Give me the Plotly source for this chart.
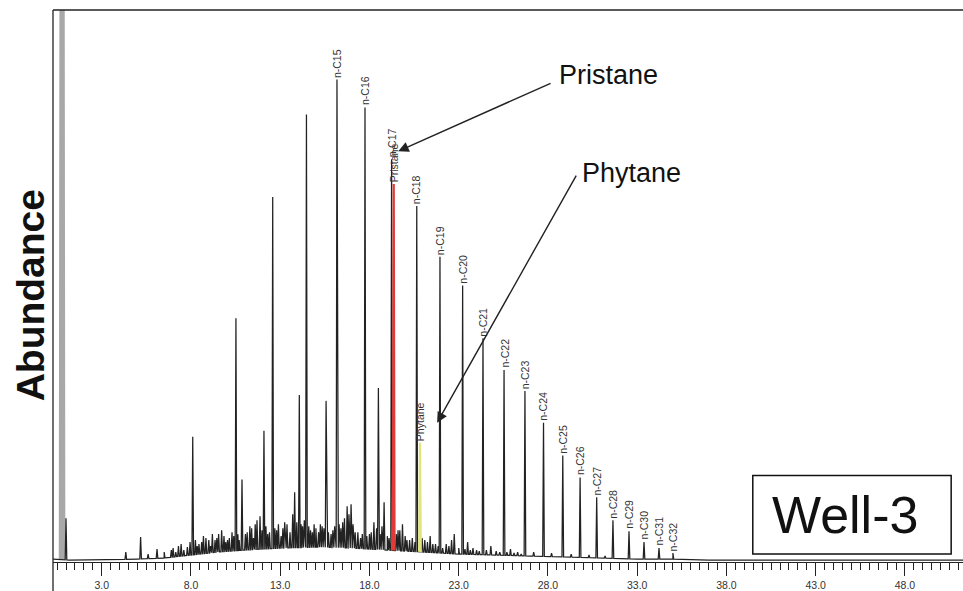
import numpy as np
import plotly.graph_objects as go

FONT = "Liberation Sans, Arial, sans-serif"

# --- labelled n-alkanes: retention time (min) and abundance -----------------
alkane_names = ["n-C15", "n-C16", "n-C17", "n-C18", "n-C19", "n-C20", "n-C21",
                "n-C22", "n-C23", "n-C24", "n-C25", "n-C26", "n-C27", "n-C28",
                "n-C29", "n-C30", "n-C31", "n-C32"]
alkane_rt = [16.18, 17.75, 19.24, 20.65, 21.95, 23.22, 24.36, 25.54, 26.71,
             27.75, 28.83, 29.80, 30.73, 31.64, 32.54, 33.38, 34.22, 35.00]
alkane_abund = [485, 457, 405, 358, 307, 278, 225, 193, 172,
                140, 107, 85, 65, 42, 31, 20, 14, 9]

# --- isoprenoids -------------------------------------------------------------
pristane_rt, pristane_abund = 19.36, 380
phytane_rt, phytane_abund = 20.83, 120

# --- solvent front (off scale) -----------------------------------------------
solvent_rt, solvent_abund = 0.78, 700

# --- other resolved peaks (unlabelled) ---------------------------------------
other_rt = [1.00, 8.10, 10.52, 10.86, 12.09, 12.58, 13.81, 14.07, 14.47,
            15.57, 18.50, 18.82]
other_abund = [44, 126, 245, 83, 132, 367, 70, 168, 450,
               162, 175, 60]

# --- minor peaks / baseline grass --------------------------------------------
minor_rt = [4.35, 5.18, 5.60, 6.10, 6.50, 6.90, 7.00, 7.15, 7.30, 7.45, 7.60,
            7.80, 7.95, 8.25, 8.35, 8.45, 8.60, 8.70, 8.84, 9.00, 9.10, 9.20,
            9.35, 9.45, 9.55, 9.72, 9.85, 9.95, 10.05, 10.15, 10.30, 10.40,
            10.63, 10.70, 11.05, 11.15, 11.30, 11.40, 11.50, 11.60, 11.70,
            11.87, 11.98, 12.20, 12.30, 12.40, 12.70, 12.80, 12.90, 13.05,
            13.15, 13.25, 13.38, 13.55, 13.70, 13.93, 14.17, 14.25, 14.35,
            14.60, 14.70, 14.80, 14.90, 15.00, 15.15, 15.25, 15.35, 15.45,
            15.70, 15.85, 15.95, 16.05, 16.30, 16.40, 16.50, 16.60, 16.75,
            16.85, 16.97, 17.08, 17.20, 17.35, 17.50, 17.60, 17.85, 18.00,
            18.10, 18.25, 18.40, 18.60, 18.70, 19.00, 19.10, 19.50, 19.60,
            19.70, 19.85, 20.00, 20.10, 20.25, 20.40, 20.55, 20.95, 21.10,
            21.25, 21.40, 21.55, 21.70, 21.85, 22.10, 22.30, 22.45, 22.60,
            22.75, 23.00, 23.35, 23.50, 23.65, 23.80, 24.00, 24.15, 24.55,
            24.80, 25.10, 25.30, 25.70, 25.90, 26.10, 26.30, 26.50, 27.20,
            28.20, 29.30, 30.30, 31.20]
minor_abund = [10, 25, 8, 13, 10, 12, 14, 10, 16, 18, 12,
               15, 20, 22, 16, 18, 20, 26, 24, 22, 16, 28,
               22, 24, 28, 32, 26, 20, 22, 24, 30, 26,
               28, 22, 28, 30, 36, 34, 24, 38, 42,
               46, 32, 36, 28, 30, 34, 32, 38, 26,
               34, 40, 38, 30, 48, 40, 38, 36, 42,
               36, 32, 30, 38, 34, 30, 38, 36, 34,
               30, 28, 32, 36, 38, 34, 40, 44, 56,
               48, 58, 38, 30, 30, 24, 28, 26, 28,
               30, 40, 34, 28, 36, 26, 24, 28, 32,
               32, 38, 26, 22, 22, 24, 20, 24, 22,
               20, 26, 18, 18, 16, 14, 18, 16, 22,
               28, 14, 13, 20, 12, 14, 12, 11, 12,
               16, 11, 10, 10, 13, 9, 10, 8, 10,
               9, 8, 7, 6]

# --- baseline (unresolved hump) ----------------------------------------------
base_rt = [0.27, 1.2, 3.0, 5.0, 6.5, 8.0, 9.5, 11.0, 13.0, 15.0, 17.0,
           19.0, 21.0, 23.0, 25.0, 27.0, 29.0, 31.0, 33.0, 35.0, 37.0, 51.3]
base_level = [3, 2, 2, 3, 4, 7, 10, 12, 14, 15, 14,
              12, 10, 8, 7, 6, 5, 4, 3, 3, 2, 2]

HW = 0.045  # half width of a peak (min)


def base_at(t):
    return float(np.interp(t, base_rt, base_level))


def peak_shape(t, h):
    return [(t - HW, base_at(t - HW)), (t, h), (t + HW, base_at(t + HW))]


# build the black chromatogram trace
pts = list(zip(base_rt, base_level))
for t, h in zip(alkane_rt + other_rt + minor_rt,
                alkane_abund + other_abund + minor_abund):
    pts += peak_shape(t, h)
pts.sort(key=lambda p: p[0])
trace_x = [p[0] for p in pts]
trace_y = [p[1] for p in pts]

fig = go.Figure()

# solvent front
sx, sy = zip(*peak_shape(solvent_rt, solvent_abund))
fig.add_trace(go.Scatter(x=sx, y=sy, mode="lines",
                         line=dict(color="#a8a8a8", width=5),
                         hoverinfo="skip", showlegend=False))

fig.add_trace(go.Scatter(x=trace_x, y=trace_y, mode="lines",
                         line=dict(color="#222222", width=1.25),
                         hoverinfo="skip", showlegend=False))

# highlighted isoprenoids
px_, py_ = zip(*peak_shape(pristane_rt, pristane_abund))
fig.add_trace(go.Scatter(x=px_, y=py_, mode="lines",
                         line=dict(color="#e23a36", width=2.2),
                         hoverinfo="skip", showlegend=False))
hx_, hy_ = zip(*peak_shape(phytane_rt, phytane_abund))
fig.add_trace(go.Scatter(x=hx_, y=hy_, mode="lines",
                         line=dict(color="#dfe47c", width=2.2),
                         hoverinfo="skip", showlegend=False))

annotations = []
# peak labels (vertical)
for name, t, h in zip(alkane_names + ["Pristane", "Phytane"],
                      alkane_rt + [pristane_rt, phytane_rt],
                      alkane_abund + [pristane_abund, phytane_abund]):
    annotations.append(dict(x=t, y=h, text=name, textangle=-90,
                            xanchor="center", yanchor="bottom",
                            showarrow=False,
                            font=dict(family=FONT, size=10.5, color="#333333")))

# call-outs with arrows
annotations.append(dict(x=pristane_rt + 0.25, y=pristane_abund + 33,
                        ax=28.23, ay=482, axref="x", ayref="y", text="",
                        showarrow=True, arrowhead=2, arrowsize=1.5,
                        arrowwidth=1.4, arrowcolor="#222222", standoff=0))
annotations.append(dict(x=phytane_rt + 0.96, y=phytane_abund + 20,
                        ax=29.63, ay=390, axref="x", ayref="y", text="",
                        showarrow=True, arrowhead=2, arrowsize=1.5,
                        arrowwidth=1.4, arrowcolor="#222222", standoff=0))
annotations.append(dict(x=28.5, y=490, text="Pristane", showarrow=False,
                        xanchor="left", yanchor="middle",
                        font=dict(family=FONT, size=27, color="#111111")))
annotations.append(dict(x=29.8, y=391, text="Phytane", showarrow=False,
                        xanchor="left", yanchor="middle",
                        font=dict(family=FONT, size=27, color="#111111")))

# y-axis title
annotations.append(dict(x=-0.0253, y=0.483, xref="paper", yref="paper",
                        text="<b>Abundance</b>", textangle=-90,
                        showarrow=False, xanchor="center", yanchor="middle",
                        font=dict(family=FONT, size=39, color="#111111")))

# sample tag
annotations.append(dict(x=0.870, y=0.0847, xref="paper", yref="paper",
                        text="Well-3", showarrow=False,
                        xanchor="center", yanchor="middle",
                        font=dict(family=FONT, size=52, color="#111111")))

shapes = [
    dict(type="line", xref="paper", yref="paper", x0=0, x1=0, y0=-0.06, y1=1,
         line=dict(color="#222222", width=1.3)),
    dict(type="line", xref="paper", yref="paper", x0=0, x1=1, y0=1, y1=1,
         line=dict(color="#222222", width=1.3)),
    dict(type="rect", xref="paper", yref="paper", x0=0.769, x1=0.987,
         y0=0.0144, y1=0.1568, line=dict(color="#111111", width=1.5),
         fillcolor="white", layer="above"),
]

fig.update_layout(
    width=963, height=591,
    margin=dict(l=53, r=0, t=10, b=26),
    paper_bgcolor="white", plot_bgcolor="white",
    showlegend=False,
    annotations=annotations,
    shapes=shapes,
    xaxis=dict(range=[0.272, 51.25], showline=True, linecolor="#222222",
               linewidth=1.2, ticks="outside", tick0=3, dtick=5, ticklen=13,
               tickwidth=1.2, tickcolor="#222222", tickformat=".1f",
               tickfont=dict(family=FONT, size=10.5, color="#333333"),
               showgrid=False, zeroline=False,
               minor=dict(tick0=0, dtick=0.5, ticklen=7, ticks="outside",
                          tickcolor="#222222", tickwidth=1, showgrid=False)),
    yaxis=dict(range=[0, 555], visible=False),
)

fig.write_html("out.html")
